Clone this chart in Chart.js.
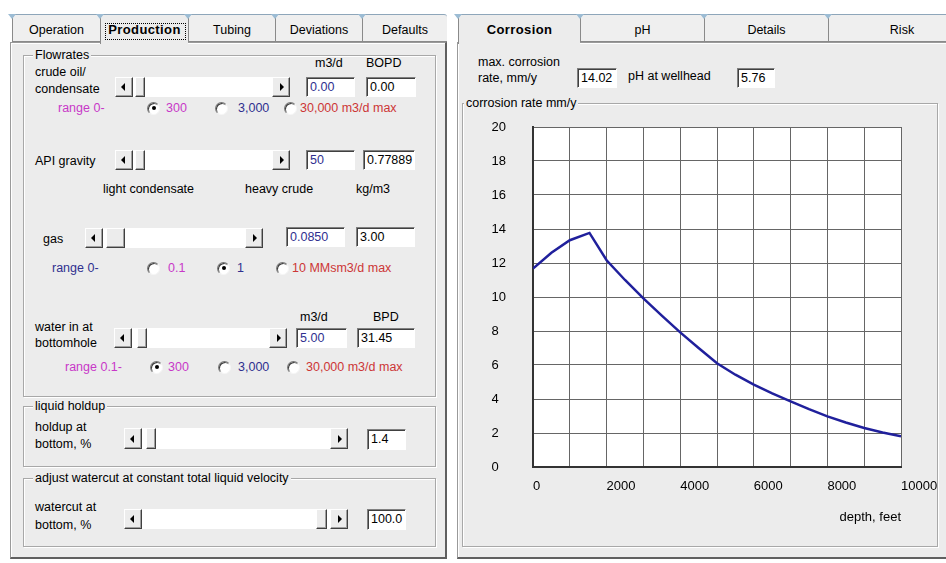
<!DOCTYPE html>
<html>
<head>
<meta charset="utf-8">
<script src="https://cdn.jsdelivr.net/npm/chart.js@4.4.1/dist/chart.umd.min.js"></script>
<style>
body{margin:0;width:946px;height:563px;background:#fff;position:relative;overflow:hidden;font-family:"Liberation Sans",Arial,sans-serif;font-size:12.5px;color:#000}
#ui div{position:absolute;box-sizing:border-box}
.lbl{white-space:nowrap;line-height:15px}
.panel{background:#ececec;border:1px solid #9a9a9a;border-right:2px solid #606060;border-bottom:2px solid #606060;box-shadow:inset 1px 1px 0 #fff}
.tab{top:14px;height:28px;border-top:1px solid #8ea6ba;border-left:1px solid #8a8a8a;border-bottom:1px solid #8a8a8a;background:#efefef;text-align:center;line-height:30px;border-radius:3px 3px 0 0;white-space:nowrap}
.tab.sel{border-bottom:none;height:30px;background:#ececec;font-weight:bold;font-size:13px;letter-spacing:0.4px}
.notch{width:0;height:0;border-left:4px solid transparent;border-right:4px solid transparent;border-top:5px solid #9cbcd4}
.grp{border:1px solid #a8a8a8;box-shadow:1px 1px 0 #fff, inset 1px 1px 0 #fff}
.txt{background:#fff;border:1px solid;border-color:#808080 #fff #fff #808080;box-shadow:inset 1px 1px 0 #404040;padding:2px 0 0 3px;line-height:15px;white-space:nowrap}
.sb{background:#fff}
.btn{background:#ececec;border:1px solid;border-color:#fff #404040 #404040 #fff;box-shadow:inset -1px -1px 0 #a0a0a0}
.arl{width:0;height:0;border-top:4px solid transparent;border-bottom:4px solid transparent;border-right:4px solid #000}
.arr{width:0;height:0;border-top:4px solid transparent;border-bottom:4px solid transparent;border-left:4px solid #000}
.rad{width:13px;height:13px;border-radius:50%;background:#fff;border:1px solid;border-color:#777 #f6f6f6 #f6f6f6 #777;box-shadow:inset 1px 1px 0 #3c3c3c}
</style>
</head>
<body>
<div id="ui"></div>
<canvas id="chart" width="472" height="425" style="position:absolute;left:470px;top:115px"></canvas>
<script>
// corrosion rate along the well
const depthFeet = [0, 500, 1000, 1535, 2000, 2500, 3000, 3500, 4000, 4500, 5000, 5500, 6000, 6500, 7000, 7500, 8000, 8500, 9000, 9500, 10000]
const corrosionRate = [11.67, 12.6, 13.34, 13.77, 12.16, 11.0, 9.92, 8.9, 7.92, 7.0, 6.1, 5.43, 4.84, 4.33, 3.86, 3.4, 2.98, 2.62, 2.29, 2.03, 1.8]
const xTickLabels = ['0', '2000', '4000', '6000', '8000', '10000']
const yTickLabels = ['0', '2', '4', '6', '8', '10', '12', '14', '16', '18', '20']

const MAG = '#c838c8', NAVY = '#30308f', RED = '#cc3636'
const ui = document.getElementById('ui')

function add(cls, x, y, w, h, html, style)
{
    var d = document.createElement('div')
    d.className = cls
    d.style.left = x + 'px'
    d.style.top = y + 'px'
    if (w) d.style.width = w + 'px'
    if (h) d.style.height = h + 'px'
    if (html) d.innerHTML = html
    if (style) d.style.cssText += style
    ui.appendChild(d)
    return d
}
function label(text, x, cy, color, legend)
{
    var st = 'color:' + (color || '#000')
    if (legend) st += ';background:#ececec;padding:0 2px;margin-left:-2px'
    add('lbl', x, cy - 7.5, 0, 0, text, st)
}
function textBox(x, y, w, h, text, color)
{
    add('txt', x, y, w, h, text, 'color:' + (color || '#000'))
}
function scroll(x, y, w, h, tx, tw)
{
    add('sb', x, y, w, h)
    var bw = 18, ay = (h - 2) / 2 - 4
    add('btn', x, y, bw, h, '<div class="arl" style="left:' + (bw / 2 - 4) + 'px;top:' + ay + 'px"></div>')
    add('btn', x + w - bw, y, bw, h, '<div class="arr" style="left:' + (bw / 2 - 2) + 'px;top:' + ay + 'px"></div>')
    add('btn', tx, y, tw, h)
}
function radio(x, cy, on)
{
    var r = add('rad', x, cy - 6.5, 13, 13)
    if (on) r.innerHTML = '<div style="left:3.5px;top:3.5px;width:4px;height:4px;border-radius:50%;background:#000"></div>'
}
function tabs(list)
{
    list.forEach((t) =>
        {
            var d = add('tab' + (t[3] ? ' sel' : ''), t[1], 14, t[2] - t[1], 0, t[0])
            if (t[3]) d.style.height = '30px'
            add('notch', t[1] - 4, 14)
        })
}

// panels
add('panel', 10, 42, 437, 517)
add('panel', 457, 42, 520, 517)
tabs([['Operation', 12, 100], ['Production', 100, 188, true], ['Tubing', 188, 275], ['Deviations', 275, 362], ['Defaults', 362, 447]])
tabs([['Corrosion', 458, 580, true], ['pH', 580, 704], ['Details', 704, 828], ['Risk', 828, 975]])
add('', 105, 23, 81, 17, '', 'border:1px dotted #000')

// group boxes
add('grp', 23, 55, 413, 342)
add('grp', 23, 406, 413, 61)
add('grp', 23, 478, 413, 69)
add('grp', 462, 103, 476, 444)
label('Flowrates', 35, 55, 0, true)
label('liquid holdup', 35, 406, 0, true)
label('adjust watercut at constant total liquid velocity', 35, 478, 0, true)
label('corrosion rate mm/y', 466, 103, 0, true)

// crude oil
label('m3/d', 315, 63); label('BOPD', 366, 63)
label('crude oil/', 35, 72); label('condensate', 35, 89)
scroll(115, 77, 175, 20, 135, 10)
textBox(306, 77, 49, 20, '0.00', NAVY); textBox(366, 77, 50, 20, '0.00')
label('range 0-', 58, 108, MAG)
radio(147, 108, true); label('300', 166, 108, MAG)
radio(215, 108, false); label('3,000', 238, 108, NAVY)
radio(284, 108, false); label('30,000 m3/d max', 300, 108, RED)

// API gravity
label('API gravity', 35, 161)
scroll(115, 150, 175, 20, 135, 10)
textBox(306, 150, 49, 20, '50', NAVY); textBox(363, 150, 52, 20, '0.77889')
label('light condensate', 103, 189); label('heavy crude', 245, 189); label('kg/m3', 356, 189)

// gas
label('MMsm3/d', 286, 240); label('MMSCFD', 357, 240)
label('gas', 43, 239)
scroll(85, 228, 178, 20, 106, 19)
textBox(286, 227, 59, 20, '0.0850', NAVY); textBox(356, 227, 59, 20, '3.00')
label('range 0-', 52, 268, NAVY)
radio(147, 268, false); label('0.1', 168, 268, MAG)
radio(217, 268, true); label('1', 237, 268, NAVY)
radio(276, 268, false); label('10 MMsm3/d max', 292, 268, RED)

// water
label('m3/d', 300, 317); label('BPD', 373, 317)
label('water in at', 35, 327); label('bottomhole', 35, 343)
scroll(114, 328, 173, 20, 137, 10)
textBox(296, 328, 51, 20, '5.00', NAVY); textBox(357, 328, 58, 20, '31.45')
label('range 0.1-', 65, 367, MAG)
radio(150, 367, true); label('300', 168, 367, MAG)
radio(218, 367, false); label('3,000', 238, 367, NAVY)
radio(287, 367, false); label('30,000 m3/d max', 306, 367, RED)

// holdup + watercut
label('holdup at', 35, 427); label('bottom, %', 35, 444)
scroll(124, 428, 224, 21, 146, 10)
textBox(367, 429, 39, 21, '1.4')
label('watercut at', 35, 507); label('bottom, %', 35, 525)
scroll(124, 509, 224, 20, 316, 11)
textBox(367, 509, 39, 21, '100.0')

// right panel header
label('max. corrosion', 478, 62); label('rate, mm/y', 478, 78)
textBox(577, 68, 40, 20, '14.02')
label('pH at wellhead', 628, 76)
textBox(737, 68, 38, 20, '5.76')

const plotBackground = {
    id: 'plotBackground',
    beforeDraw(chart)
    {
        var a = chart.chartArea, ctx = chart.ctx
        ctx.save()
        ctx.fillStyle = '#fff'
        ctx.fillRect(a.left, a.top, a.width, a.height)
        ctx.restore()
    }
}

const tickFont = {family: '"Liberation Sans", Arial, sans-serif', size: 13}
var ctx = document.getElementById('chart').getContext('2d')
var chart = new Chart(ctx, {
    type: 'line',
    data: {
        datasets: [{
            data: depthFeet.map((d, i) => ({x: d, y: corrosionRate[i]})),
            borderColor: '#20209c',
            borderWidth: 2.5,
            pointRadius: 0,
            tension: 0,
            fill: false
        }]
    },
    plugins: [plotBackground],
    options: {
        responsive: false,
        animation: false,
        devicePixelRatio: 1,
        layout: {padding: {left: 21.5, top: 12, right: 41, bottom: 0}},
        plugins: {legend: {display: false}, tooltip: {enabled: false}},
        scales: {
            x: {
                type: 'linear', min: 0, max: 10000,
                ticks: {
                    stepSize: 1000, autoSkip: false, maxRotation: 0, align: 'start', padding: 12,
                    color: '#000', font: tickFont,
                    callback: (v) => xTickLabels.includes(String(v)) ? String(v) : ''
                },
                grid: {color: '#666', lineWidth: 1, drawTicks: false},
                border: {color: '#333', width: 2},
                title: {display: true, text: 'depth, feet', align: 'end', color: '#000', font: tickFont, padding: {top: 0, bottom: 15}},
                afterFit: (s) => { s.height = 73; s.paddingLeft = 0; s.paddingRight = 0 }
            },
            y: {
                min: 0, max: 20,
                ticks: {
                    stepSize: 2, crossAlign: 'far', color: '#000', font: tickFont,
                    callback: (v) => yTickLabels.includes(String(v)) ? String(v) : ''
                },
                grid: {color: '#666', lineWidth: 1, drawTicks: false},
                border: {color: '#333', width: 2},
                afterFit: (s) => { s.width = 41.5; s.paddingTop = 0; s.paddingBottom = 0 }
            }
        }
    }
})
</script>
</body>
</html>
